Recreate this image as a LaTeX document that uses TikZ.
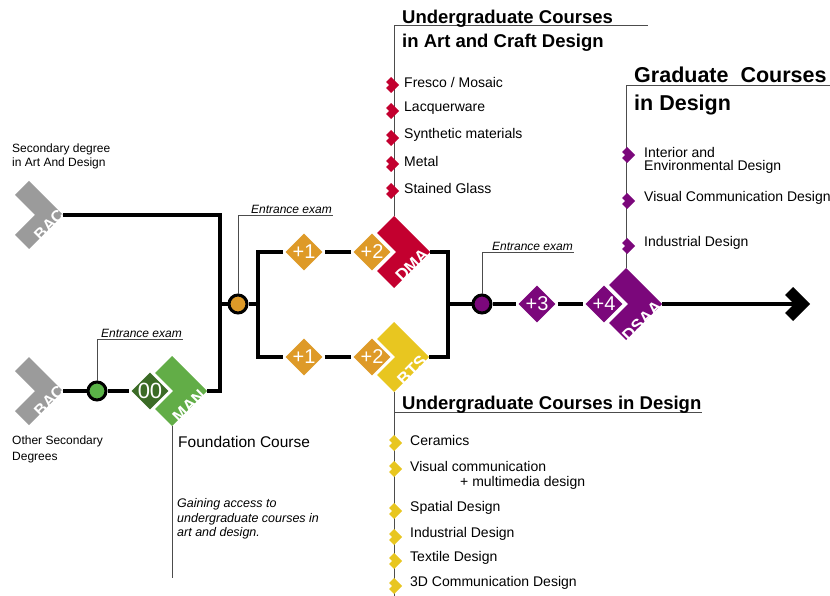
\documentclass[tikz,border=0pt]{standalone}
\usepackage{fontspec}
\setmainfont{Liberation Sans}
\usetikzlibrary{shapes.geometric}

\definecolor{bacgray}{HTML}{9B9B9B}
\definecolor{mangreen}{HTML}{62AD47}
\definecolor{dkgreen}{HTML}{3B6B26}
\definecolor{dotgreen}{HTML}{5AB347}
\definecolor{yearorange}{HTML}{DE9A28}
\definecolor{dmared}{HTML}{C3002F}
\definecolor{btsyellow}{HTML}{E8C620}
\definecolor{dsaapurple}{HTML}{7B077B}

\tikzset{
  mainline/.style={line width=3.6pt},
  guide/.style={draw=black!70, line width=0.9pt},
  year/.style={diamond, aspect=1, fill=#1, draw=white, line width=1.6pt,
    minimum size=40pt, inner sep=0pt, text=white, font=\fontsize{20}{20}\selectfont},
  exam/.style={circle, fill=#1, draw=black, line width=3pt, minimum size=18pt, inner sep=0pt},
  chevlabel/.style={text=white, rotate=45, inner sep=0pt, font=\fontsize{17}{17}\selectfont\bfseries},
  examlabel/.style={inner sep=1pt, font=\fontsize{12}{12}\selectfont\itshape},
  item/.style={anchor=west, inner sep=0pt, align=left, font=\fontsize{14}{17}\selectfont},
  heading/.style={anchor=west, inner sep=0pt, align=left, font=\fontsize{18.5}{24}\selectfont\bfseries},
  pics/chevron/.style args={#1/#2/#3}{code={
    \fill[#3] (0,0) -- (-#1,-#1) -- (-#1-#2,-#1+#2) -- (-2*#2,0) -- (-#1-#2,#1-#2) -- (-#1,#1) -- cycle;}},
}

\begin{document}
\begin{tikzpicture}[x=1pt,y=-1pt]
\useasboundingbox (0,0) rectangle (830,596);

% tips of the chevrons and bends of the main line
\coordinate (bac1) at (63,215);
\coordinate (bac2) at (63,391);
\coordinate (man) at (207,391);
\coordinate (dma) at (430,252);
\coordinate (bts) at (429,357);
\coordinate (dsaa) at (662,304);
\coordinate (arrowtip) at (810,304);
\coordinate (arrowend) at (794,304);
\coordinate (join) at (220,304);
\coordinate (split) at (258,304);
\coordinate (merge) at (448,304);

% guide lines to the headings
\coordinate (mantop) at (172,426);
\coordinate (manend) at (172,578);
\coordinate (dmatop) at (394,216);
\coordinate (ug1bend) at (394,25);
\coordinate (ug1end) at (648,25);
\coordinate (btsbot) at (394,392);
\coordinate (ug2bot) at (394,596);
\coordinate (ug2bend) at (394,412);
\coordinate (ug2end) at (702,412);
\coordinate (dsaatop) at (626,268);
\coordinate (gdbend) at (626,85);
\coordinate (gdend) at (830,85);

\draw[guide] (mantop) -- (manend);
\draw[guide] (dmatop) -- (ug1bend) -- (ug1end);
\draw[guide] (btsbot) -- (ug2bot);
\draw[guide] (ug2bend) -- (ug2end);
\draw[guide] (dsaatop) -- (gdbend) -- (gdend);

\pic at (bac1) {chevron=34/14/bacgray};
\pic at (bac2) {chevron=34/14/bacgray};
\pic at (man) {chevron=35/17/mangreen};
\pic at (dma) {chevron=36/17/dmared};
\pic at (bts) {chevron=35/17/btsyellow};
\pic at (dsaa) {chevron=36/17/dsaapurple};
\pic at (arrowtip) {chevron=17/8/black};

\node[chevlabel, font=\fontsize{16}{16}\selectfont\bfseries] (baclbl1) at (49,225) {BAC};
\node[chevlabel, font=\fontsize{16}{16}\selectfont\bfseries] (baclbl2) at (49,401) {BAC};
\node[chevlabel] (manlbl) at (189,406) {MAN};
\node[chevlabel] (dmalbl) at (412,265) {DMA};
\node[chevlabel] (btslbl) at (412,370) {BTS};
\node[chevlabel] (dsaalbl) at (642,321) {DSAA};

% years
\node[year=dkgreen, font=\fontsize{22}{22}\selectfont] (y00) at (150,391) {00};
\node[year=yearorange] (p1a) at (304,252) {+1};
\node[year=yearorange] (p2a) at (372,252) {+2};
\node[year=yearorange] (p1b) at (304,357) {+1};
\node[year=yearorange] (p2b) at (372,357) {+2};
\node[year=dsaapurple] (p3) at (537,304) {+3};
\node[year=dsaapurple] (p4) at (604,304) {+4};

\node[exam=dotgreen] (c1) at (97,391) {};
\node[exam=yearorange] (c2) at (238,304) {};
\node[exam=dsaapurple] (c3) at (482,304) {};

% main line
\draw[mainline] (bac1) -| (join) |- (man);
\draw[mainline] (bac2) -- (c1) -- (y00);
\draw[mainline] (join) -- (c2) -- (split);
\draw[mainline] (p1a) -| (split) |- (p1b);
\draw[mainline] (p1a) -- (p2a);
\draw[mainline] (p1b) -- (p2b);
\draw[mainline] (dma) -| (merge) |- (bts);
\draw[mainline] (merge) -- (c3) -- (p3) -- (p4);
\draw[mainline] (dsaa) -- (arrowend);

% entrance exams
\coordinate (ex1) at (183,339);
\coordinate (ex2) at (333,215);
\coordinate (ex3) at (574,252);
\draw[guide] (c1) |- (ex1);
\draw[guide] (c2) |- (ex2);
\draw[guide] (c3) |- (ex3);
\node[examlabel, anchor=south east] (exl1) at (ex1) {Entrance exam};
\node[examlabel, anchor=south east] (exl2) at (ex2) {Entrance exam};
\node[examlabel, anchor=south east] (exl3) at (ex3) {Entrance exam};

% left side texts
\node[item, font=\fontsize{12}{14}\selectfont] (sec1) at (12,156) {Secondary degree\\in Art And Design};
\node[item, font=\fontsize{12}{16}\selectfont] (sec2) at (12,449) {Other Secondary\\Degrees};
\node[item, font=\fontsize{15.5}{18}\selectfont] (found) at (178,442) {Foundation Course};
\node[item, font=\fontsize{12.5}{14.5}\selectfont\itshape] (access) at (177,519)
  {Gaining access to\\undergraduate courses in\\art and design.};

% headings
\node[heading] (ug1) at (402,31) {Undergraduate Courses\\in Art and Craft Design};
\node[heading] (ug2) at (402,405) {Undergraduate Courses in Design};
\node[heading, font=\fontsize{21.5}{28}\selectfont\bfseries] (gd) at (634,91) {Graduate\ \ Courses\\in Design};

% course lists
\foreach \y/\t [count=\i] in {82/{Fresco / Mosaic}, 108/Lacquerware, 135/{Synthetic materials}, 161/Metal, 188/{Stained Glass}}{
  \pic at (399,\y+3) {chevron=8/5/dmared};
  \node[item] (art\i) at (404,\y) {\t};
}
\foreach \y/\t [count=\i] in {440/Ceramics, 466/{Visual communication}, 508/{Spatial Design}, 534/{Industrial Design}, 558/{Textile Design}, 583/{3D Communication Design}}{
  \pic at (402,\y+3) {chevron=8/5/btsyellow};
  \node[item] (des\i) at (410,\y) {\t};
}
\node[item] (des2b) at (460,483) {+ multimedia design};
\foreach \y/\t [count=\i] in {152/{Interior and}, 198/{Visual Communication Design}, 243/{Industrial Design}}{
  \pic at (635,\y+3) {chevron=8/5/dsaapurple};
  \node[item] (grad\i) at (644,\y) {\t};
}
\node[item] (grad1b) at (644,167) {Environmental Design};
\end{tikzpicture}
\end{document}
